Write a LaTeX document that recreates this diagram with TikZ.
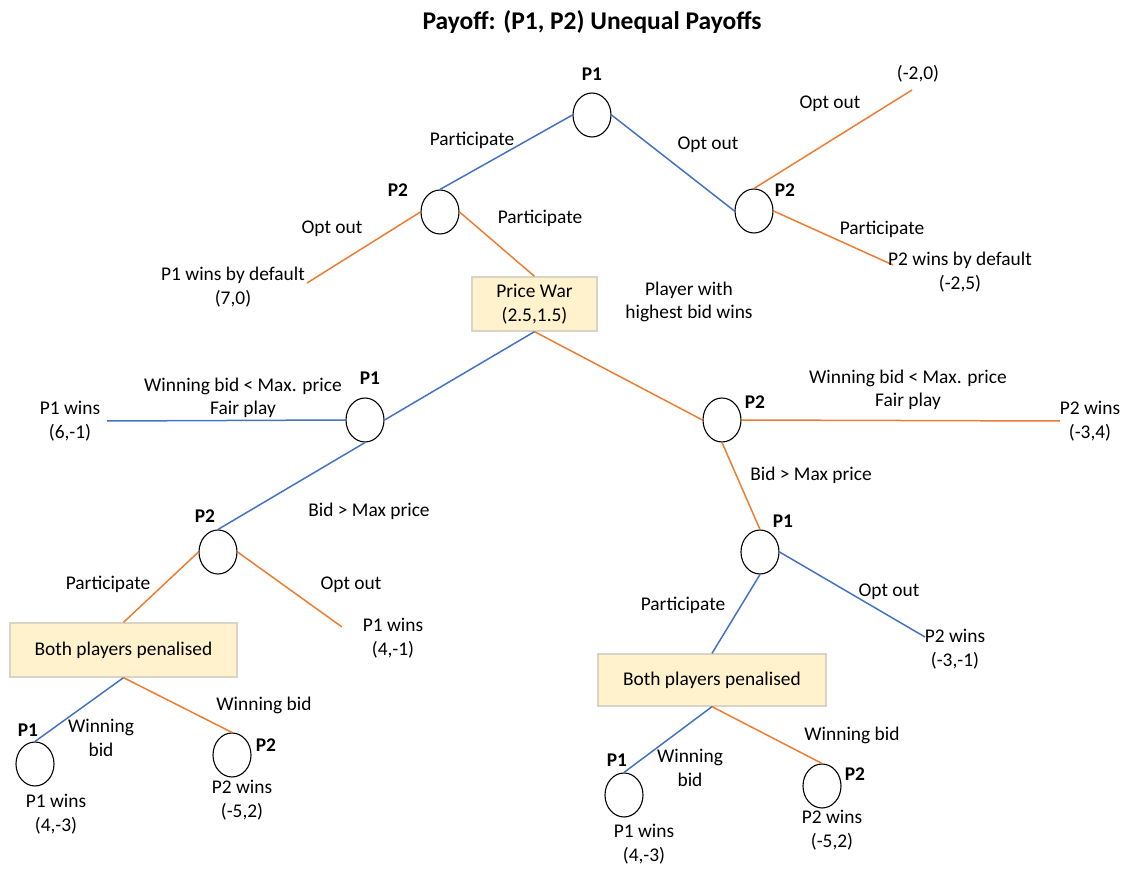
\documentclass[tikz,border=0pt]{standalone}
\usepackage{fontspec}
\setmainfont{Carlito}
\usetikzlibrary{shapes.geometric}
\definecolor{pblue}{HTML}{4472C4}
\definecolor{porange}{HTML}{ED7D31}
\definecolor{boxfill}{HTML}{FFF2CC}
\definecolor{boxline}{HTML}{D8D5C6}
\tikzset{
  dec/.style={ellipse, draw=black, line width=1.1pt, minimum width=38pt, minimum height=44pt, inner sep=0pt},
  outcome/.style={rectangle, fill=boxfill, draw=boxline, line width=1.3pt, inner sep=0pt},
  lbl/.style={font=\fontsize{19.4}{23.5}\selectfont, align=center, inner sep=0pt},
  plr/.style={font=\bfseries\fontsize{19.4}{23}\selectfont, inner sep=0pt},
  bl/.style={draw=pblue, line width=1.5pt},
  og/.style={draw=porange, line width=1.5pt},
}
\begin{document}
\begin{tikzpicture}[x=1pt, y=-1pt]
\useasboundingbox (0,0) rectangle (1128,869);

% title
\node[font=\bfseries\fontsize{25.5}{30}\selectfont, inner sep=0pt] (title) at (592,22) {Payoff: (P1, P2) Unequal Payoffs};

% ---- top level ----
\node[dec] (A) at (592,115) {};
\node[plr] (Al) at (592,74) {P1};
\node[dec] (B) at (440,212) {};
\node[plr] (Bl) at (398,190) {P2};
\node[dec] (C) at (754,211) {};
\node[plr] (Cl) at (785,190) {P2};

\draw[bl] (A.west) -- (B.north);
\draw[bl] (A.east) -- (C.west);
\node[lbl] (tA1) at (472,140) {Participate};
\node[lbl] (tA2) at (708,145) {Opt out};

% right P2 branches
\coordinate (eC1) at (912,90);
\coordinate (eC2) at (893,265);
\draw[og] (C.north) -- (eC1);
\draw[og] (C.east) -- (eC2);
\node[lbl] (tC1) at (830,104) {Opt out};
\node[lbl] (tC2) at (882,229) {Participate};
\node[lbl] (pC1) at (918,74) {(-2,0)};
\node[lbl] (pC2) at (960,272) {P2 wins by default\\(-2,5)};

% left P2 branches
\node[outcome, minimum width=125pt, minimum height=54pt, lbl] (PW) at (534.5,304) {Price War\\(2.5,1.5)};
\coordinate (eB1) at (307,283);
\draw[og] (B.west) -- (eB1);
\draw[og] (B.east) -- (PW.north);
\node[lbl] (tB1) at (332,229) {Opt out};
\node[lbl] (tB2) at (540,218) {Participate};
\node[lbl] (pB1) at (233,287) {P1 wins by default\\(7,0)};
\node[lbl] (tPW) at (689,302) {Player with\\highest bid wins};

% ---- price war level ----
\node[dec] (D) at (365,420) {};
\node[plr] (Dl) at (370,378) {P1};
\node[dec] (E) at (722,420) {};
\node[plr] (El) at (755,402) {P2};
\draw[bl] (PW.south) -- (D.east);
\draw[og] (PW.south) -- (E.west);

% left P1 node
\coordinate (eD1) at (107,421);
\draw[bl] (D.west) -- (eD1);
\node[lbl] (tD1) at (243,398) {Winning bid < Max. price\\Fair play};
\node[lbl] (pD1) at (70,421) {P1 wins\\(6,-1)};

\node[dec] (F) at (218,552) {};
\node[plr] (Fl) at (205,516) {P2};
\draw[bl] (D.south) -- (F.north);
\node[lbl] (tD2) at (369,511) {Bid > Max price};

\node[outcome, minimum width=227pt, minimum height=54pt, lbl] (BP1) at (123.5,650) {Both players penalised};
\coordinate (eF2) at (342,627);
\draw[og] (F.west) -- (BP1.north);
\draw[og] (F.east) -- (eF2);
\node[lbl] (tF1) at (108,584) {Participate};
\node[lbl] (tF2) at (351,585) {Opt out};
\node[lbl] (pF2) at (393,638) {P1 wins\\(4,-1)};

\node[dec] (G) at (35,764) {};
\node[plr] (Gl) at (28,730) {P1};
\node[dec] (H) at (232,755) {};
\node[plr] (Hl) at (266,745) {P2};
\draw[bl] (BP1.south) -- (G.north);
\draw[og] (BP1.south) -- (H.north);
\node[lbl] (tG) at (101,738) {Winning\\bid};
\node[lbl] (tH) at (264,705) {Winning bid};
\node[lbl] (pG) at (56,814) {P1 wins\\(4,-3)};
\node[lbl] (pH) at (242,800) {P2 wins\\(-5,2)};

% right P2 node
\coordinate (eE1) at (1060,421);
\draw[og] (E.east) -- (eE1);
\node[lbl] (tE1) at (908,390) {Winning bid < Max. price\\Fair play};
\node[lbl] (pE1) at (1090,421) {P2 wins\\(-3,4)};

\node[dec] (I) at (760,552) {};
\node[plr] (Il) at (783,521) {P1};
\draw[og] (E.south) -- (I.north);
\node[lbl] (tE2) at (811,475) {Bid > Max price};

\node[outcome, minimum width=228pt, minimum height=52pt, lbl] (BP2) at (712,680) {Both players penalised};
\coordinate (eI2) at (925,637);
\draw[bl] (I.south) -- (BP2.north);
\draw[bl] (I.east) -- (eI2);
\node[lbl] (tI1) at (683,605) {Participate};
\node[lbl] (tI2) at (889,592) {Opt out};
\node[lbl] (pI2) at (955,649) {P2 wins\\(-3,-1)};

\node[dec] (J) at (624,795) {};
\node[plr] (Jl) at (617,760) {P1};
\node[dec] (K) at (822,786) {};
\node[plr] (Kl) at (855,774) {P2};
\draw[bl] (BP2.south) -- (J.north);
\draw[og] (BP2.south) -- (K.north);
\node[lbl] (tJ) at (690,768) {Winning\\bid};
\node[lbl] (tK) at (852,735) {Winning bid};
\node[lbl] (pJ) at (644,844) {P1 wins\\(4,-3)};
\node[lbl] (pK) at (832,830) {P2 wins\\(-5,2)};
\end{tikzpicture}
\end{document}
